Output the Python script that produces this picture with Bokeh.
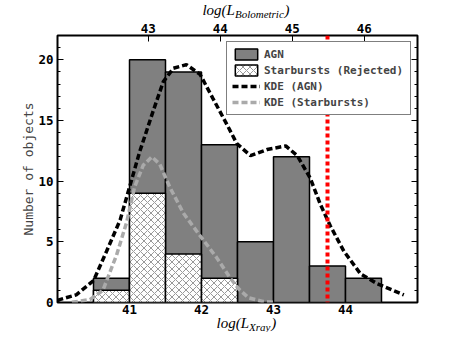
from bokeh.plotting import figure
from bokeh.layouts import column
from bokeh.models import (Range1d, LinearAxis, FixedTicker, SingleIntervalTicker, Span,
                          Legend, LegendItem, ColumnDataSource)
from bokeh.core.properties import value
from bokeh.embed import file_html
from bokeh.resources import INLINE

# ---------------- data ----------------
bin_edges = [40.5, 41.0, 41.5, 42.0, 42.5, 43.0, 43.5, 44.0, 44.5]
agn_counts = [2, 20, 19, 13, 5, 12, 3, 2]
sb_counts = [1, 9, 4, 2, 0, 0, 0, 0]

agn_kde_x = [40.0, 40.03, 40.26, 40.50, 40.68, 40.87, 41.00, 41.14, 41.33, 41.47, 41.61, 41.79,
             41.98, 42.16, 42.35, 42.49, 42.68, 42.91, 43.17, 43.33, 43.51, 43.65, 43.79,
             43.98, 44.21, 44.44, 44.81]
agn_kde_y = [0.15, 0.24, 0.63, 1.8, 4.2, 6.8, 9.5, 12.4, 15.8, 18.2, 19.3, 19.6,
             18.8, 16.8, 14.7, 13.1, 12.1, 12.6, 12.9, 12.1, 10.25, 8.1, 6.3,
             4.2, 2.35, 1.55, 0.63]

sb_kde_x = [40.2, 40.45, 40.63, 40.82, 40.96, 41.07, 41.19, 41.31, 41.42, 41.56, 41.75,
            41.98, 42.21, 42.40, 42.52, 42.65, 42.85, 43.0]
sb_kde_y = [0.02, 0.24, 1.0, 3.9, 6.6, 9.5, 11.3, 12.0, 11.4, 9.5, 7.35,
            5.5, 3.7, 2.0, 1.1, 0.4, 0.08, 0.02]

xray_ticks = [41, 42, 43, 44]
bol_ticks = [43, 44, 45, 46]
bol_offset = 1.74          # log(L_bol) - log(L_xray) along the top axis
cut_x = 43.75              # red dotted limit
x_lim = (40.0, 45.0)
y_lim = (0, 22)

legend_labels = ["AGN", "Starbursts (Rejected)", "KDE (AGN)", "KDE (Starbursts)"]
xlabel_parts = ["log(L", "Xray", ")"]
toplabel_parts = ["log(L", "Bolometric", ")"]

# ---------------- layout constants (pixels) ----------------
W = 447
TOP_H, MAIN_H, BOT_H = 20, 296, 16
MONO = "DejaVu Sans Mono"
SERIF = "Liberation Serif"

# ---------------- main figure ----------------
p = figure(width=W, height=MAIN_H, output_backend="svg", toolbar_location=None,
           x_range=Range1d(*x_lim), y_range=Range1d(*y_lim),
           min_border_left=57, min_border_right=30, min_border_top=14, min_border_bottom=14)
p.grid.visible = False
p.outline_line_color = "black"
p.outline_line_width = 2
p.background_fill_color = "white"
p.border_fill_color = "white"

def style_axis(ax, labels=True):
    ax.axis_line_color = None
    ax.major_tick_in = 6
    ax.major_tick_out = 0
    ax.minor_tick_in = 3
    ax.minor_tick_out = 0
    ax.major_tick_line_color = "black"
    ax.minor_tick_line_color = "black"
    ax.major_label_text_font = MONO
    ax.major_label_text_font_style = "bold"
    ax.major_label_text_font_size = "12.5px"
    ax.major_label_text_color = "black"
    if not labels:
        ax.major_label_text_alpha = 0
        ax.major_label_text_font_size = "2px"

xa = p.xaxis[0]
xa.ticker = FixedTicker(ticks=xray_ticks)
style_axis(xa)
xa.major_label_standoff = 2

ya = p.yaxis[0]
ya.ticker = SingleIntervalTicker(interval=5, num_minor_ticks=5)
style_axis(ya)
ya.major_label_standoff = 4
ya.axis_label = "Number of objects"
ya.axis_label_text_font = MONO
ya.axis_label_text_font_style = "normal"
ya.axis_label_text_font_size = "13px"
ya.axis_label_standoff = -1

top_pos = [b - bol_offset for b in bol_ticks]
ta = LinearAxis(ticker=FixedTicker(ticks=top_pos),
                major_label_overrides={tp: str(b) for tp, b in zip(top_pos, bol_ticks)})
style_axis(ta)
ta.major_label_standoff = 3
p.add_layout(ta, "above")

ra = LinearAxis(ticker=SingleIntervalTicker(interval=5, num_minor_ticks=5))
style_axis(ra, labels=False)
ra.major_label_standoff = 0
p.add_layout(ra, "right")

# bars
agn_src = ColumnDataSource(dict(left=bin_edges[:-1], right=bin_edges[1:],
                                top=agn_counts, bottom=[0] * len(agn_counts)))
r_agn = p.quad(left="left", right="right", top="top", bottom="bottom", source=agn_src,
               fill_color="#808080", line_color="black", line_width=1.5)

sb_l = [l for l, c in zip(bin_edges[:-1], sb_counts) if c > 0]
sb_r = [r for r, c in zip(bin_edges[1:], sb_counts) if c > 0]
sb_t = [c for c in sb_counts if c > 0]
sb_src = ColumnDataSource(dict(left=sb_l, right=sb_r, top=sb_t, bottom=[0] * len(sb_t)))
r_sb = p.quad(left="left", right="right", top="top", bottom="bottom", source=sb_src,
              fill_color="white", line_color="black", line_width=1.5,
              hatch_pattern="x", hatch_scale=7, hatch_weight=0.5, hatch_color="#333333")

# KDE curves
r_kde_agn = p.line(agn_kde_x, agn_kde_y, line_color="black", line_width=3.5, line_dash="6 3")
r_kde_sb = p.line(sb_kde_x, sb_kde_y, line_color="#aaaaaa", line_width=3.5, line_dash="6 3")

# red limit
p.add_layout(Span(location=cut_x, dimension="height", line_color="red",
                  line_width=4, line_dash="4 3"))

# legend
legend = Legend(items=[LegendItem(label=legend_labels[0], renderers=[r_agn]),
                       LegendItem(label=legend_labels[1], renderers=[r_sb]),
                       LegendItem(label=legend_labels[2], renderers=[r_kde_agn]),
                       LegendItem(label=legend_labels[3], renderers=[r_kde_sb])],
                location="top_right", margin=6, padding=5, spacing=2,
                glyph_width=28, glyph_height=14, label_height=14, label_width=141,
                label_standoff=4,
                label_text_font=MONO, label_text_font_style="bold",
                label_text_font_size="11px",
                border_line_color="black", border_line_width=1,
                background_fill_color="white", background_fill_alpha=1)
p.add_layout(legend, "center")

# ---------------- axis-title strips (math-like titles with subscripts) ----------------
def strip(height):
    f = figure(width=W, height=height, output_backend="svg", toolbar_location=None,
               x_range=Range1d(0, W), y_range=Range1d(height, 0), min_border=0,
               x_axis_location=None, y_axis_location=None)
    f.outline_line_color = None
    f.grid.visible = False
    f.background_fill_color = "white"
    f.border_fill_color = "white"
    return f

def math_title(f, parts, anchor, paren, y_main, y_sub):
    # y values measured downward from the strip's top edge
    main, sub, close = parts
    kw = dict(text_font=value(SERIF), text_font_style="italic", text_baseline="middle",
              text_color="black")
    f.text(x=[anchor], y=[y_main], text=[main], text_align="right",
           text_font_size=value("15px"), **kw)
    f.text(x=[anchor], y=[y_sub], text=[sub], text_align="left",
           text_font_size=value("11px"), **kw)
    f.text(x=[paren], y=[y_main], text=[close], text_align="left",
           text_font_size=value("15px"), **kw)

top_fig = strip(TOP_H)
math_title(top_fig, toplabel_parts, 220.3, 282.0, 9.0, 13.5)

bot_fig = strip(BOT_H)
math_title(bot_fig, xlabel_parts, 237.8, 265.3, 6.5, 10.0)

layout = column(top_fig, p, bot_fig, spacing=0)
open("out.html", "w").write(file_html(layout, INLINE))
